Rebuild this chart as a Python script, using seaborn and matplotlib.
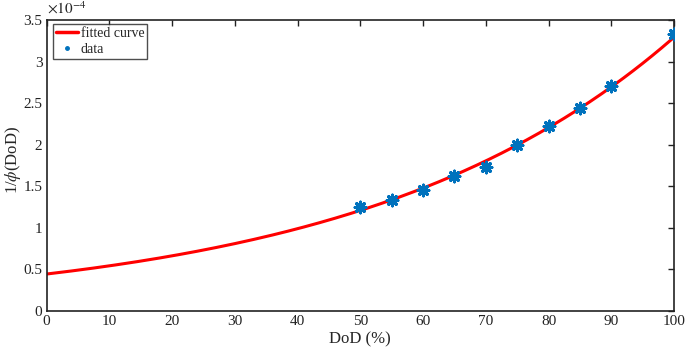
import numpy as np
import pandas as pd
import matplotlib
matplotlib.use("Agg")
import matplotlib.pyplot as plt
from matplotlib.lines import Line2D
import seaborn as sns

sns.set_style("white")
plt.rcParams['font.family'] = ['Liberation Serif', 'DejaVu Serif']
plt.rcParams['mathtext.fontset'] = 'stix'

# measured points (1/phi, in units of 1e-4)
dod = [50, 55, 60, 65, 70, 75, 80, 85, 90, 100]
inv_phi = [1.25, 1.34, 1.46, 1.62, 1.73, 2.00, 2.22, 2.44, 2.71, 3.33]

# exponential fit a*exp(b*x) on the data
b, log_a = np.polyfit(dod, np.log(inv_phi), 1)
x_fit = np.linspace(0, 100, 201)
fit = pd.DataFrame({"DoD": x_fit, "val": np.exp(log_a) * np.exp(b * x_fit)})
pts = pd.DataFrame({"DoD": dod, "val": inv_phi})

fig = plt.figure(figsize=(6.85, 3.57), dpi=100)
ax = fig.add_axes([0.068, 0.129, 0.916, 0.815])

sns.lineplot(data=fit, x="DoD", y="val", color="#ff0000", lw=2.2, ax=ax)
sns.scatterplot(data=pts, x="DoD", y="val", marker=(8, 2, 0), s=60,
                color="#0072bd", edgecolor="#0072bd", linewidth=2.2,
                ax=ax, zorder=3)

ax.set_xlim(0, 100)
ax.set_ylim(0, 3.5)
ax.set_xticks(np.arange(0, 101, 10))
ax.set_yticks(np.arange(0, 3.51, 0.5))
ax.set_yticklabels(["0", "0.5", "1", "1.5", "2", "2.5", "3", "3.5"])
ax.tick_params(direction="in", length=4, width=1, top=True, right=True,
               labelsize=11, colors="#222222", pad=3)
for s in ax.spines.values():
    s.set_linewidth(1.2)
    s.set_color("#222222")

ax.set_xlabel("DoD (%)", fontsize=12, labelpad=2)
ax.set_ylabel(r"1/$\phi$(DoD)", fontsize=12)
ax.yaxis.set_label_coords(-0.037, 0.52)
ax.text(0.0, 1.01, r"$\times10^{-4}$", transform=ax.transAxes, fontsize=11,
        ha="left", va="bottom")

handles = [Line2D([], [], color="#ff0000", lw=2.5),
           Line2D([], [], color="#0072bd", marker=".", ls="none", markersize=5)]
leg = ax.legend(handles, ["fitted curve", "data"], loc="upper left",
                bbox_to_anchor=(0.01, 0.985), fontsize=10, frameon=True,
                fancybox=False, handlelength=1.6, handletextpad=0.2,
                borderpad=0.2, labelspacing=0.2, borderaxespad=0)
leg.get_frame().set_edgecolor("#222222")
leg.get_frame().set_linewidth(1.0)

fig.savefig("out.png", dpi=100)
